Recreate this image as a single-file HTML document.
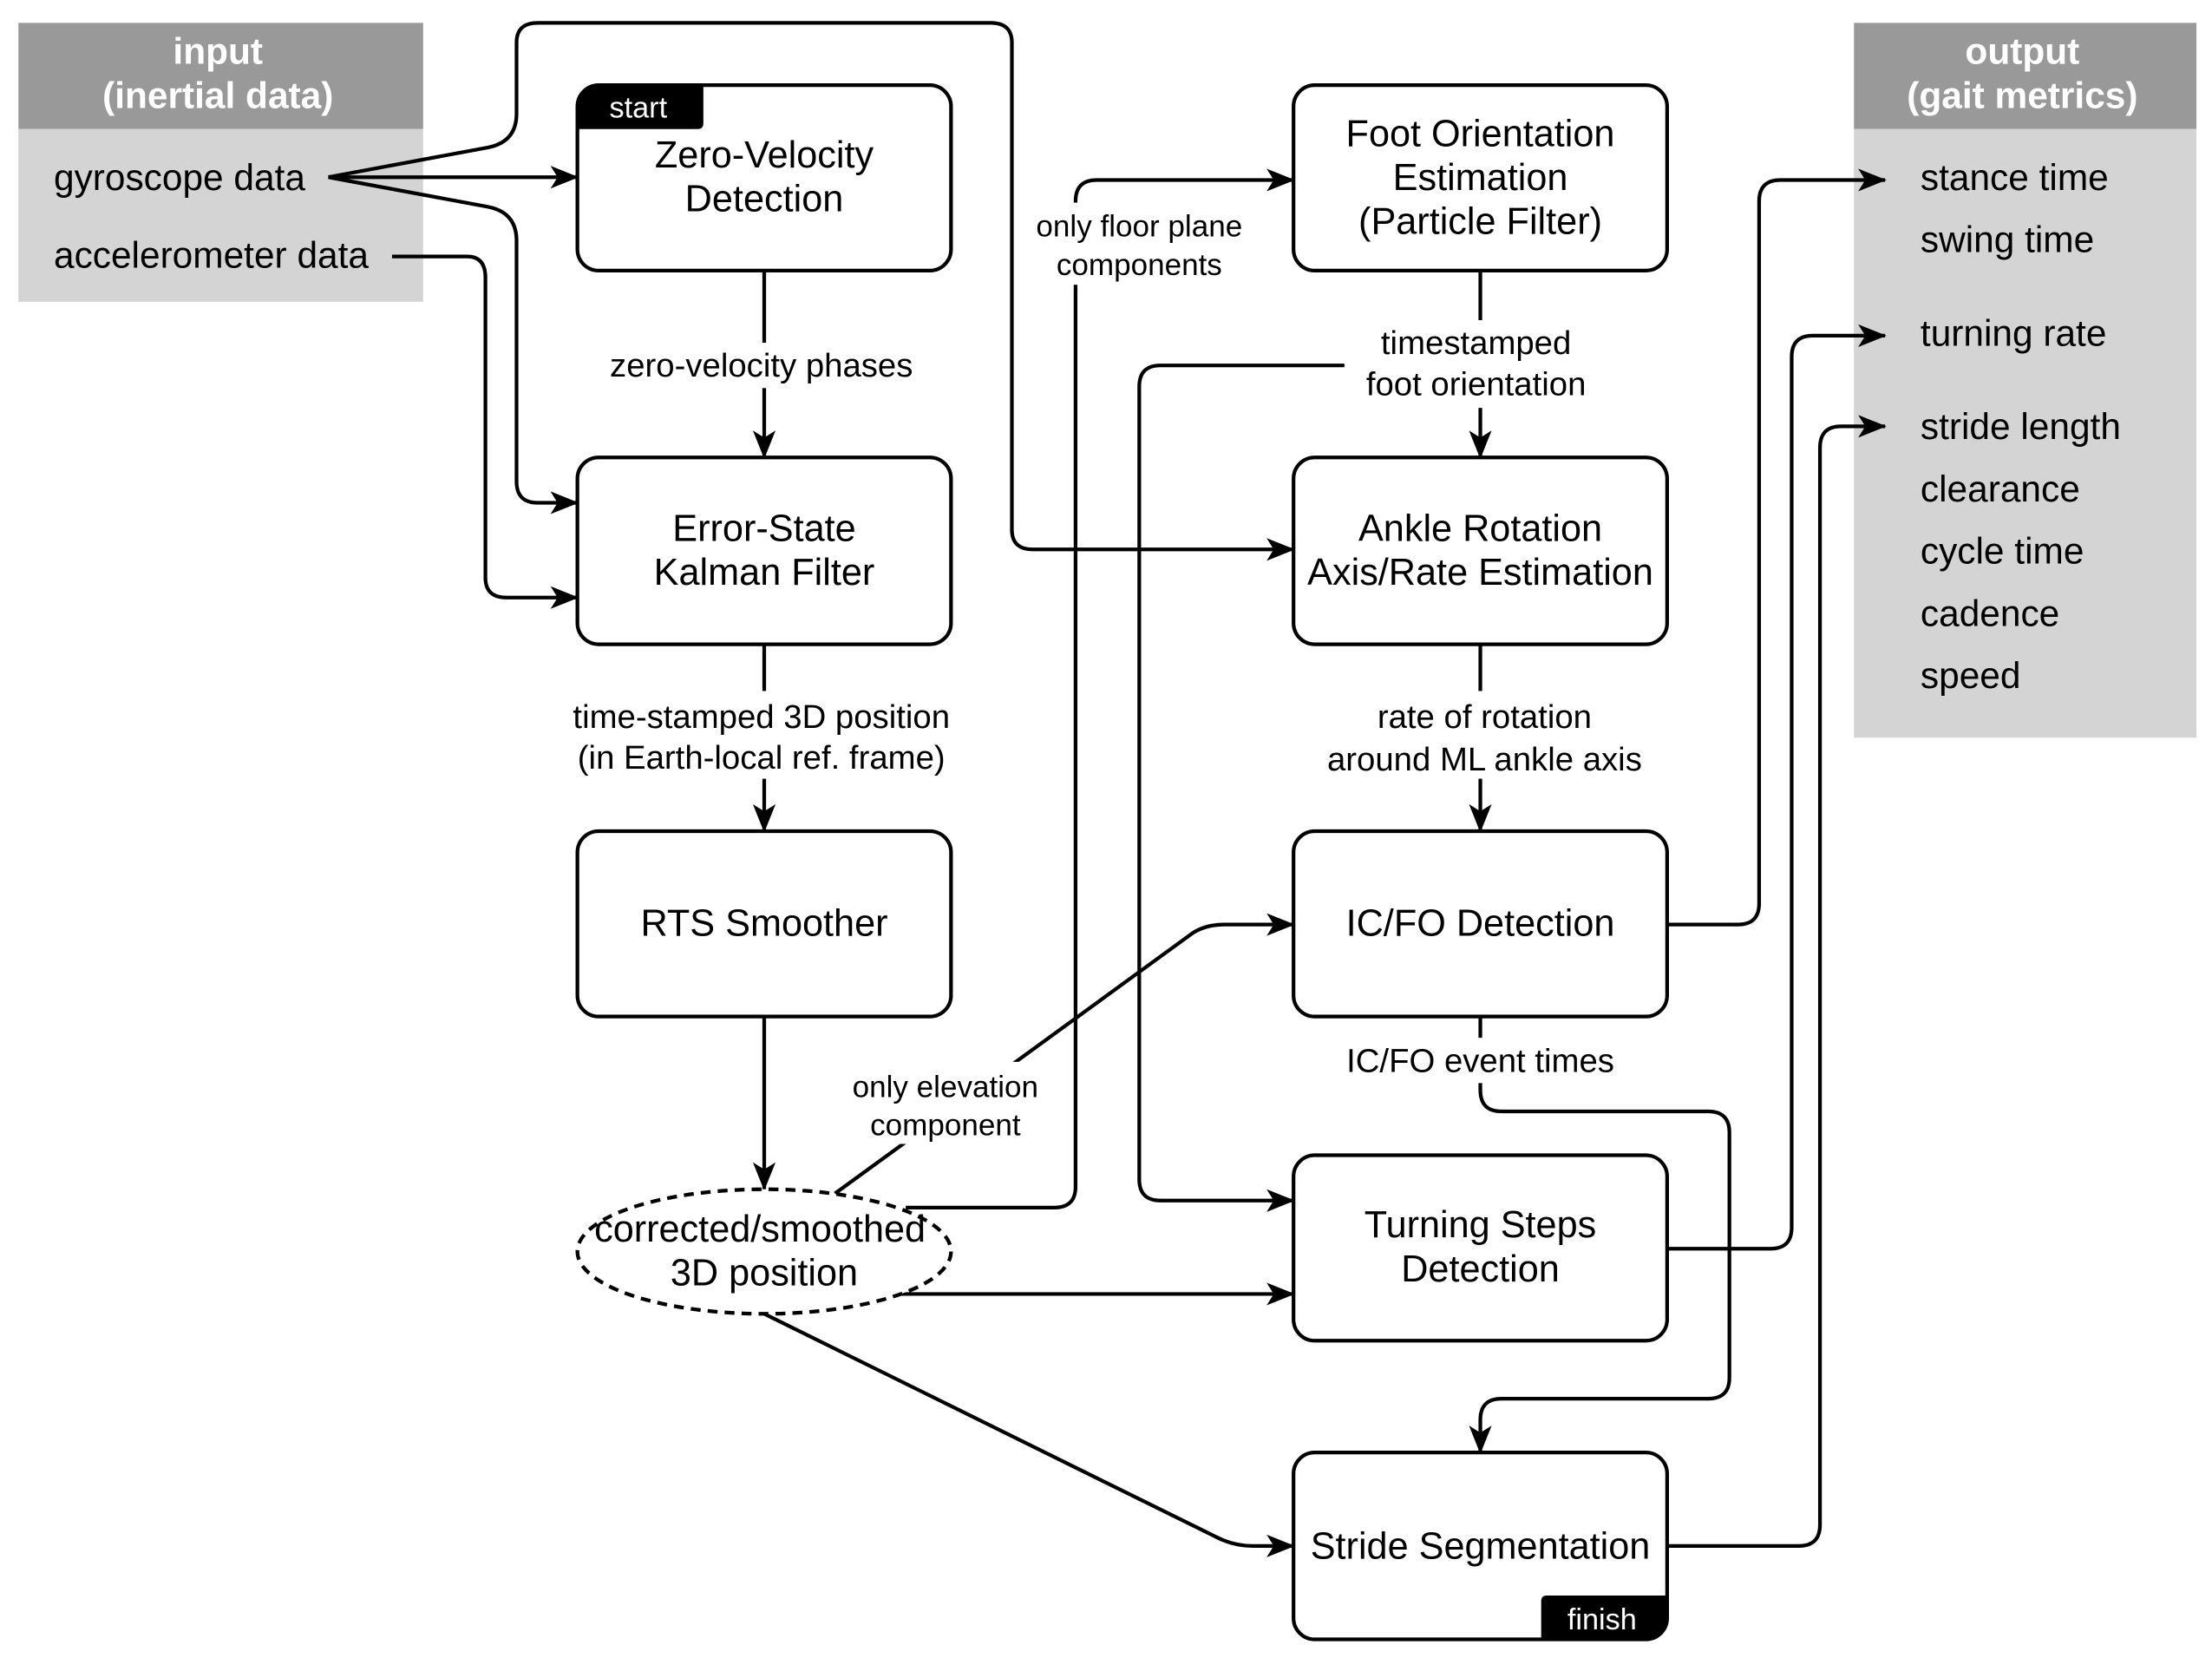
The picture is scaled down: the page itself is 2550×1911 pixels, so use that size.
<!DOCTYPE html>
<html><head><meta charset="utf-8"><style>html,body{margin:0;padding:0;background:#fff}svg{display:block}</style></head>
<body>
<svg width="2550" height="1911" viewBox="0 0 1563 1171" xmlns="http://www.w3.org/2000/svg" font-family="Liberation Sans, Arial, sans-serif">
<defs>
<marker id="a" markerWidth="20" markerHeight="16" refX="19" refY="8" orient="auto" markerUnits="userSpaceOnUse">
<path d="M0,0 L20,8 L0,16 L5,8 z" fill="#000"/>
</marker>
</defs>
<rect x="0" y="0" width="1563" height="1171" fill="#fff"/>
<rect x="13" y="16" width="286" height="75" fill="#999"/>
<rect x="13" y="91" width="286" height="122" fill="#d4d4d4"/>
<text x="154" y="45" fill="#fff" font-size="26" font-weight="bold" text-anchor="middle">input</text>
<text x="154" y="76" fill="#fff" font-size="26" font-weight="bold" text-anchor="middle">(inertial data)</text>
<text x="38" y="134" font-size="26">gyroscope data</text>
<text x="38" y="189" font-size="26">accelerometer data</text>
<rect x="1310" y="16" width="242" height="75" fill="#999"/>
<rect x="1310" y="91" width="242" height="430" fill="#d4d4d4"/>
<text x="1429" y="45" fill="#fff" font-size="26" font-weight="bold" text-anchor="middle">output</text>
<text x="1429" y="76" fill="#fff" font-size="26" font-weight="bold" text-anchor="middle">(gait metrics)</text>
<g font-size="26">
<text x="1357" y="134">stance time</text>
<text x="1357" y="178">swing time</text>
<text x="1357" y="244">turning rate</text>
<text x="1357" y="310">stride length</text>
<text x="1357" y="354">clearance</text>
<text x="1357" y="398">cycle time</text>
<text x="1357" y="442">cadence</text>
<text x="1357" y="486">speed</text>
</g>
<g fill="none" stroke="#000" stroke-width="2.6">
<path d="M232,125 L408,125" marker-end="url(#a)"/>
<path d="M232,125 L345,104 Q365,100 365,80 L365,30 Q365,16 380,16 L700,16 Q715,16 715,30 L715,374 Q715,388 730,388 L914,388" marker-end="url(#a)"/>
<path d="M232,125 L345,146 Q365,150 365,170 L365,340 Q365,355 380,355 L408,355" marker-end="url(#a)"/>
<path d="M277,181 L330,181 Q343,181 343,196 L343,408 Q343,422 358,422 L408,422" marker-end="url(#a)"/>
<path d="M540,191 L540,323" marker-end="url(#a)"/>
<path d="M540,455 L540,587" marker-end="url(#a)"/>
<path d="M540,718 L540,840" marker-end="url(#a)"/>
<path d="M640,853 L745,853 Q760,853 760,838 L760,142 Q760,127 775,127 L914,127" marker-end="url(#a)"/>
<path d="M590,843 L840,661 Q850,653 865,653 L914,653" marker-end="url(#a)"/>
<path d="M630,914 L914,914" marker-end="url(#a)"/>
<path d="M540,928 L860,1086 Q872,1092 885,1092 L914,1092" marker-end="url(#a)"/>
<path d="M1046,191 L1046,323" marker-end="url(#a)"/>
<path d="M950,258 L820,258 Q805,258 805,273 L805,833 Q805,848 820,848 L914,848" marker-end="url(#a)"/>
<path d="M1046,455 L1046,587" marker-end="url(#a)"/>
<path d="M1046,718 L1046,770 Q1046,785 1061,785 L1207,785 Q1222,785 1222,800 L1222,973 Q1222,988 1207,988 L1061,988 Q1046,988 1046,1003 L1046,1026" marker-end="url(#a)"/>
<path d="M1178,653 L1228,653 Q1243,653 1243,638 L1243,142 Q1243,127 1258,127 L1332,127" marker-end="url(#a)"/>
<path d="M1178,882 L1251,882 Q1266,882 1266,867 L1266,252 Q1266,237 1281,237 L1332,237" marker-end="url(#a)"/>
<path d="M1178,1092 L1271,1092 Q1286,1092 1286,1077 L1286,316 Q1286,301 1301,301 L1332,301" marker-end="url(#a)"/>
</g>
<g fill="#fff">
<rect x="422" y="242" width="234" height="32"/>
<rect x="396" y="488" width="288" height="62"/>
<rect x="724" y="143" width="162" height="58"/>
<rect x="593" y="750" width="149" height="58"/>
<rect x="950" y="226" width="185" height="62"/>
<rect x="926" y="488" width="248" height="62"/>
<rect x="940" y="733" width="212" height="32"/>
</g>
<g font-size="23.5" text-anchor="middle">
<text x="538" y="266">zero-velocity phases</text>
<text x="538" y="514">time-stamped 3D position</text>
<text x="538" y="543">(in Earth-local ref. frame)</text>
<text x="1043" y="250">timestamped</text>
<text x="1043" y="279">foot orientation</text>
<text x="1049" y="514">rate of rotation</text>
<text x="1049" y="544">around ML ankle axis</text>
<text x="1046" y="757">IC/FO event times</text>
</g>
<g font-size="21.5" text-anchor="middle">
<text x="805" y="167">only floor plane</text>
<text x="805" y="194">components</text>
<text x="668" y="775">only elevation</text>
<text x="668" y="802">component</text>
</g>
<g fill="#fff" stroke="#000" stroke-width="2.6">
<rect x="408" y="60" width="264" height="131" rx="15"/>
<rect x="408" y="323" width="264" height="132" rx="15"/>
<rect x="408" y="587" width="264" height="131" rx="15"/>
<rect x="914" y="60" width="264" height="131" rx="15"/>
<rect x="914" y="323" width="264" height="132" rx="15"/>
<rect x="914" y="587" width="264" height="131" rx="15"/>
<rect x="914" y="816" width="264" height="131" rx="15"/>
<rect x="914" y="1026" width="264" height="132" rx="15"/>
<ellipse cx="540" cy="884" rx="132" ry="44" stroke-dasharray="7,5"/>
</g>
<path d="M409,75 Q409,61 423,61 L497,61 L497,87 Q497,91 493,91 L409,91 z" fill="#000"/>
<text x="451" y="83" fill="#fff" font-size="21" text-anchor="middle">start</text>
<path d="M1089,1131 Q1089,1127 1093,1127 L1178,1127 L1178,1143 Q1178,1158 1163,1158 L1089,1158 z" fill="#000"/>
<text x="1132" y="1151" fill="#fff" font-size="21" text-anchor="middle">finish</text>
<g font-size="26.5" text-anchor="middle">
<text x="540" y="118">Zero-Velocity</text>
<text x="540" y="149">Detection</text>
<text x="540" y="382">Error-State</text>
<text x="540" y="413">Kalman Filter</text>
<text x="540" y="661">RTS Smoother</text>
<text x="1046" y="103">Foot Orientation</text>
<text x="1046" y="134">Estimation</text>
<text x="1046" y="165">(Particle Filter)</text>
<text x="1046" y="382">Ankle Rotation</text>
<text x="1046" y="413">Axis/Rate Estimation</text>
<text x="1046" y="661">IC/FO Detection</text>
<text x="1046" y="874">Turning Steps</text>
<text x="1046" y="905">Detection</text>
<text x="1046" y="1101">Stride Segmentation</text>
<text x="537" y="877">corrected/smoothed</text>
<text x="540" y="908">3D position</text>
</g>
</svg>
</body></html>
